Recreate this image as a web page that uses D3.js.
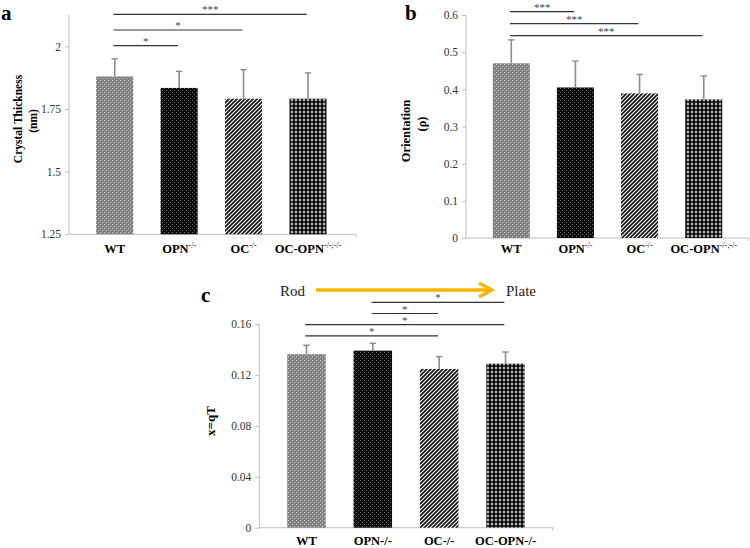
<!DOCTYPE html>
<html><head><meta charset="utf-8">
<script src="https://cdn.jsdelivr.net/npm/d3@7/dist/d3.min.js"></script>
<style>body{margin:0;background:#fff}svg{display:block}text{font-family:"Liberation Serif","Times New Roman",serif}</style>
</head><body>
<script>
// ---- data ----
const categories = ["WT", "OPN", "OC", "OC-OPN"];
const supAB = ["", "-/-", "-/-", "-/-;-/-"];
const labelsC = ["WT", "OPN-/-", "OC-/-", "OC-OPN-/-"];
const thickness = [1.880, 1.834, 1.791, 1.791];
const thicknessErr = [0.070, 0.066, 0.116, 0.103];
const orientation = [0.470, 0.405, 0.389, 0.373];
const orientationErr = [0.063, 0.071, 0.051, 0.063];
const xqT = [0.1363, 0.1391, 0.1247, 0.1289];
const xqTErr = [0.0070, 0.0058, 0.0097, 0.0091];
const ticksA = [1.25, 1.5, 1.75, 2];
const ticksB = [0, 0.1, 0.2, 0.3, 0.4, 0.5, 0.6];
const ticksC = [0, 0.04, 0.08, 0.12, 0.16];
const sigA = [{from:0,to:3,label:"***"},{from:0,to:2,label:"*"},{from:0,to:1,label:"*"}];
const sigB = [{from:0,to:1,label:"***"},{from:0,to:2,label:"***"},{from:0,to:3,label:"***"}];
const sigC = [{from:1,to:3,label:"*"},{from:1,to:2,label:"*"},{from:0,to:3,label:"*"},{from:0,to:2,label:"*"}];

const svg = d3.select("body").append("svg").attr("width",750).attr("height",548);
const defs = svg.append("defs");
const patterns = ["pWT","pOPN","pOC","pOCOPN"];
let p = defs.append("pattern").attr("id","pWT").attr("patternUnits","userSpaceOnUse").attr("width",4).attr("height",4);
p.append("rect").attr("width",4).attr("height",4).attr("fill","#808080");
p.append("rect").attr("x",0).attr("y",0).attr("width",1.2).attr("height",1.2).attr("fill","#c4c4c4");
p.append("rect").attr("x",2).attr("y",2).attr("width",1.2).attr("height",1.2).attr("fill","#c4c4c4");
p = defs.append("pattern").attr("id","pOPN").attr("patternUnits","userSpaceOnUse").attr("width",4).attr("height",4);
p.append("rect").attr("width",4).attr("height",4).attr("fill","#0d0d0d");
p.append("rect").attr("x",0).attr("y",0).attr("width",1).attr("height",1).attr("fill","#6a6a6a");
p.append("rect").attr("x",2).attr("y",2).attr("width",1).attr("height",1).attr("fill","#6a6a6a");
p = defs.append("pattern").attr("id","pOC").attr("patternUnits","userSpaceOnUse").attr("width",4).attr("height",4);
p.append("rect").attr("width",4).attr("height",4).attr("fill","#fff");
p.append("path").attr("d","M-1,1 L1,-1 M0,4 L4,0 M3,5 L5,3").attr("stroke","#111").attr("stroke-width",1.7);
p = defs.append("pattern").attr("id","pOCOPN").attr("patternUnits","userSpaceOnUse").attr("width",4).attr("height",4);
p.append("rect").attr("width",4).attr("height",4).attr("fill","#fff");
p.append("circle").attr("cx",2).attr("cy",2).attr("r",1.95).attr("fill","#000");

const axisColor = "#bfbfbf";

function panel(cfg){
  const g = svg.append("g");
  const x = d3.scaleBand().domain(categories).range(cfg.xr).paddingInner(cfg.pad).paddingOuter(cfg.pad/2);
  const y = d3.scaleLinear().domain(cfg.yd).range(cfg.yr);
  const y0 = y(cfg.ticks[0]);
  const ya = g.append("g").attr("transform",`translate(${cfg.axisX},0)`)
    .call(d3.axisLeft(y).tickValues(cfg.ticks).tickSize(4).tickPadding(4).tickFormat(d=>cfg.fmt(d)));
  ya.select(".domain").attr("stroke",axisColor).attr("d",`M0,${y0}V${cfg.yr[1]}`);
  ya.selectAll(".tick line").attr("stroke",axisColor);
  ya.selectAll(".tick text").attr("font-size",11.5).attr("fill","#333");
  g.append("path").attr("d",`M${cfg.axisX},${y0}H${cfg.axisEnd}v3`).attr("stroke",axisColor).attr("fill","none");
  g.selectAll("rect.bar").data(categories).join("rect").attr("class","bar")
    .attr("x",d=>x(d)).attr("width",x.bandwidth())
    .attr("y",(d,i)=>y(cfg.vals[i])).attr("height",(d,i)=>y0-y(cfg.vals[i]))
    .attr("fill",(d,i)=>`url(#${patterns[i]})`);
  const eb = g.selectAll("g.err").data(categories).join("g");
  eb.append("line").attr("x1",d=>x(d)+x.bandwidth()/2).attr("x2",d=>x(d)+x.bandwidth()/2)
    .attr("y1",(d,i)=>y(cfg.vals[i])).attr("y2",(d,i)=>y(cfg.vals[i]+cfg.errs[i]))
    .attr("stroke","#8c8c8c").attr("stroke-width",1.6);
  eb.append("line").attr("x1",d=>x(d)+x.bandwidth()/2-3.2).attr("x2",d=>x(d)+x.bandwidth()/2+3.2)
    .attr("y1",(d,i)=>y(cfg.vals[i]+cfg.errs[i])).attr("y2",(d,i)=>y(cfg.vals[i]+cfg.errs[i]))
    .attr("stroke","#8c8c8c").attr("stroke-width",1.4);
  const cl = g.selectAll("text.cat").data(categories).join("text").attr("class","cat")
    .attr("x",d=>x(d)+x.bandwidth()/2).attr("y",cfg.labY).attr("text-anchor","middle")
    .attr("font-size",12.5).attr("font-weight","bold").attr("fill","#000");
  cl.each(function(d,i){
    const t = d3.select(this);
    if(cfg.sup){
      t.append("tspan").text(d);
      if(cfg.sup[i]) t.append("tspan").attr("font-size",8).attr("dy",-5).attr("font-weight","normal").text(cfg.sup[i]);
    } else t.text(cfg.labels[i]);
  });
  const c = d=>x(d)+x.bandwidth()/2-1.2;
  cfg.sig.forEach((s,k)=>{
    const ly = cfg.sigTop + k*cfg.sigStep;
    const xa = c(categories[s.from]), xb = c(categories[s.to]);
    g.append("line").attr("x1",xa).attr("x2",xb).attr("y1",ly).attr("y2",ly).attr("stroke","#333").attr("stroke-width",1.2);
    g.append("text").attr("x",(xa+xb)/2).attr("y",ly-1).attr("text-anchor","middle").attr("font-size",11).attr("fill","#444").text(s.label);
  });
  cfg.ylab.forEach(l=>{
    g.append("text").attr("transform",`translate(${l.x},${l.y}) rotate(-90)`).attr("text-anchor","middle")
      .attr("font-size",l.size).attr("font-weight","bold").attr("fill","#000").text(l.t);
  });
  g.append("text").attr("x",cfg.letter[0]).attr("y",cfg.letter[1]).attr("font-size",21).attr("font-weight","bold").text(cfg.letter[2]);
  return {x,y};
}

panel({xr:[82.5,340.2], pad:0.425, yd:[1.25,2.125], yr:[234.3,15], ticks:ticksA, axisX:69, axisEnd:356,
  fmt:d=>d3.format("")(d), vals:thickness, errs:thicknessErr, labY:253, sup:supAB,
  sig:sigA, sigTop:14.3, sigStep:15.7,
  ylab:[{t:"Crystal Thickness",x:22,y:119,size:11.5},{t:"(nm)",x:37,y:121,size:11.5}], letter:[1,19.5,"a"]});

panel({xr:[479.2,735.8], pad:0.423, yd:[0,0.6], yr:[238,15], ticks:ticksB, axisX:466, axisEnd:749,
  fmt:d=>d3.format("")(d), vals:orientation, errs:orientationErr, labY:253, sup:supAB,
  sig:sigB, sigTop:11.7, sigStep:12,
  ylab:[{t:"Orientation",x:409.5,y:131,size:12.5},{t:"(ρ)",x:426,y:124,size:12.5}], letter:[405,19.5,"b"]});

panel({xr:[273.3,538.7], pad:0.42, yd:[0,0.16], yr:[527.7,324], ticks:ticksC, axisX:259.3, axisEnd:553,
  fmt:d=>d===0?"0":d3.format(".2f")(d), vals:xqT, errs:xqTErr, labY:545, labels:labelsC,
  sig:sigC, sigTop:302.3, sigStep:11.2,
  ylab:[{t:"x=qT",x:215,y:421,size:13}], letter:[201,302,"c"]});

svg.append("text").attr("x",280).attr("y",296).attr("font-size",15).attr("fill","#222").text("Rod");
svg.append("text").attr("x",506).attr("y",296).attr("font-size",15).attr("fill","#222").text("Plate");
svg.append("path").attr("d","M316,290H491").attr("stroke","#ffb400").attr("stroke-width",3.5).attr("fill","none");
svg.append("path").attr("d","M479,283L492,290L479,297").attr("stroke","#ffb400").attr("stroke-width",3.2).attr("fill","none");
</script>
</body></html>
